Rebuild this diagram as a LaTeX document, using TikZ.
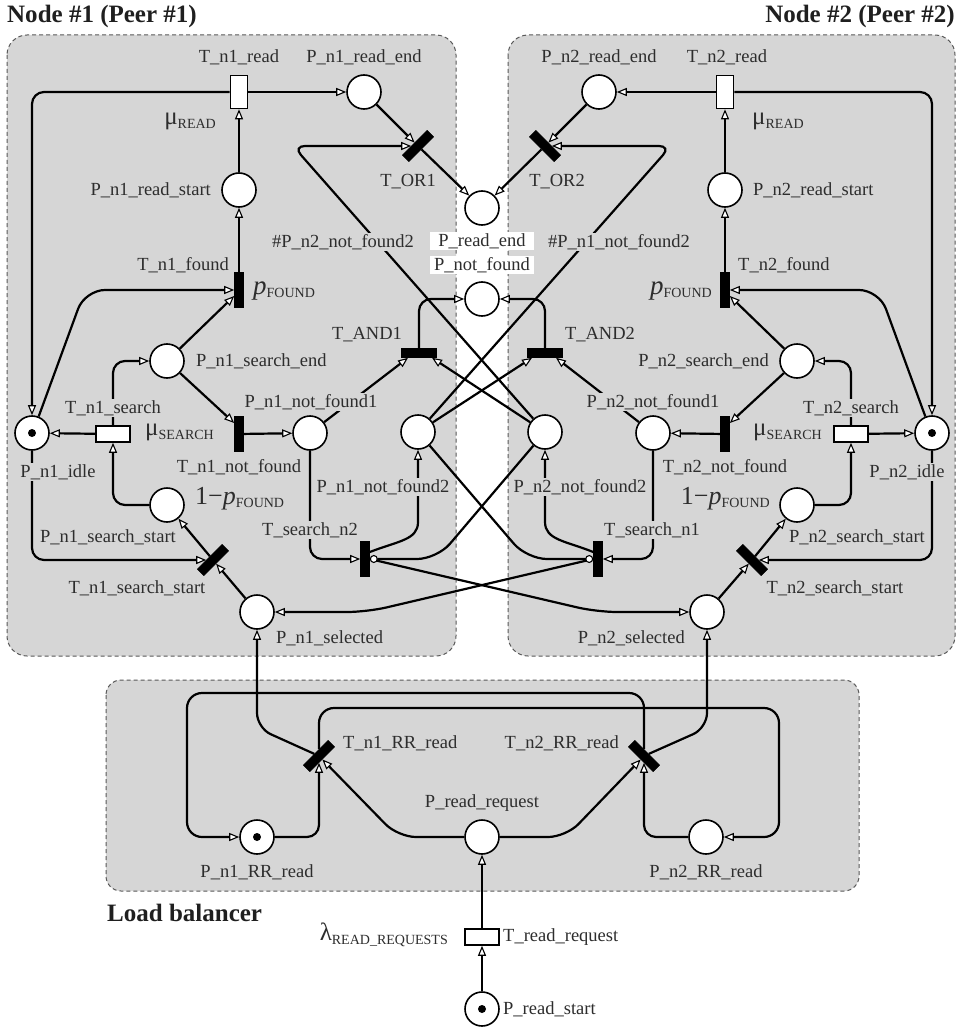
\documentclass[tikz,border=0pt]{standalone}
\usepackage{fontspec}
\setmainfont{Liberation Serif}
\usetikzlibrary{arrows.meta}
\definecolor{boxgray}{RGB}{214,214,214}
\definecolor{txt}{RGB}{45,45,45}
\pgfdeclarelayer{bg}
\pgfdeclarelayer{arcs}
\pgfsetlayers{bg,arcs,main}
\newcommand{\myrate}[2]{{\fontsize{25}{25}\selectfont #1}\raisebox{-4pt}{\fontsize{14}{14}\selectfont #2}}
\newcommand{\mypf}{{\fontsize{27}{27}\selectfont\itshape p}\raisebox{-3pt}{\fontsize{14}{14}\selectfont FOUND}}
\newcommand{\myqf}{{\fontsize{26}{26}\selectfont 1−\textit{p}}\raisebox{-3pt}{\fontsize{14}{14}\selectfont FOUND}}
\begin{document}
\begin{tikzpicture}[x=1pt,y=-1pt,
  place/.style={circle,draw,line width=1.6pt,fill=white,minimum size=34pt,inner sep=0pt},
  imm/.style={rectangle,fill=black,draw=black,line width=0.6pt,minimum width=9pt,minimum height=35pt,inner sep=0pt},
  immh/.style={imm,minimum width=35pt,minimum height=9pt},
  timedv/.style={rectangle,fill=white,draw,line width=1.6pt,minimum width=17pt,minimum height=33pt,inner sep=0pt},
  timedh/.style={timedv,minimum width=34pt,minimum height=16pt},
  arc/.style={line width=2.2pt,-{Triangle[fill=white,line width=1.1pt,length=10pt,width=8pt]}},
  inh/.style={line width=2.2pt,-{Circle[fill=white,line width=1.1pt,length=8pt,width=8pt]}},
  lbl/.style={font=\fontsize{18.5}{20}\selectfont,text=txt,fill=boxgray,inner sep=1pt},
  wlbl/.style={lbl,fill=white},
  ttl/.style={font=\fontsize{25}{27}\selectfont\bfseries,text=black!88,inner sep=0pt},
  pbox/.style={draw=black!65,dash pattern=on 4pt off 3pt,line width=1pt,fill=boxgray,rounded corners=20pt}
]
\useasboundingbox (0,0) rectangle (963,1027);

% ---------- boxes ----------
\begin{pgfonlayer}{bg}
\fill[white] (0,0) rectangle (963,1027);
\draw[pbox] (7,35) rectangle (456,656);
\draw[pbox] (508,35) rectangle (955,656);
\draw[pbox,rounded corners=15pt] (106,680) rectangle (859,891);
\end{pgfonlayer}

% ---------- places ----------
\node[place] (Pn1rs) at (239,190) {};
\node[place] (Pn1re) at (364,92) {};
\node[place] (Pn2re) at (599,92) {};
\node[place] (Pn2rs) at (725,190) {};
\node[place] (Pre) at (482,208) {};
\node[place] (Pnf) at (482,299) {};
\node[place] (Pn1se) at (167,361) {};
\node[place] (Pn2se) at (797,361) {};
\node[place] (Pn1idle) at (32,433) {};
\node[place] (Pn2idle) at (932,433) {};
\node[place] (Pn1nf1) at (310,433) {};
\node[place] (Pn1nf2) at (418,432) {};
\node[place] (Pn2nf2) at (545,432) {};
\node[place] (Pn2nf1) at (653,433) {};
\node[place] (Pn1ss) at (167,505) {};
\node[place] (Pn2ss) at (797,505) {};
\node[place] (Pn1sel) at (257,612) {};
\node[place] (Pn2sel) at (707,612) {};
\node[place] (Pn1RR) at (257,837) {};
\node[place] (Pn2RR) at (706,837) {};
\node[place] (Prr) at (482,837) {};
\node[place] (Prs) at (482,1009) {};
\foreach \p in {Pn1idle,Pn2idle,Pn1RR,Prs} \fill (\p) circle (4);

% ---------- transitions ----------
\node[timedv] (Tn1r) at (239,92) {};
\node[timedv] (Tn2r) at (725,92) {};
\node[imm,rotate=-45] (TOR1) at (418,146) {};
\node[imm,rotate=45] (TOR2) at (545,146) {};
\node[imm] (Tn1f) at (239,290) {};
\node[imm] (Tn2f) at (725,290) {};
\node[immh] (TAND1) at (419,353) {};
\node[immh] (TAND2) at (545,353) {};
\node[timedh] (Tn1s) at (113,434) {};
\node[timedh] (Tn2s) at (851,434) {};
\node[imm] (Tn1nf) at (239,434) {};
\node[imm] (Tn2nf) at (725,434) {};
\node[imm] (Tsn2) at (365,559) {};
\node[imm] (Tsn1) at (598,559) {};
\node[imm,rotate=-45] (Tn1ss) at (213,560) {};
\node[imm,rotate=45] (Tn2ss) at (752,560) {};
\node[imm,rotate=-45] (Tn1RR) at (319,756) {};
\node[imm,rotate=45] (Tn2RR) at (644,756) {};
\node[timedh] (Trr) at (482,937) {};

% ---------- arcs ----------
\begin{pgfonlayer}{arcs}
% top
\draw[arc] (Tn1r.east) -- (Pn1re);
\draw[arc,rounded corners=12pt] (Tn1r.west) -| (Pn1idle.north);
\draw[arc] (Tn2r.west) -- (Pn2re);
\draw[arc,rounded corners=12pt] (Tn2r.east) -| (Pn2idle.north);
\draw[arc] (Pn1rs) -- (Tn1r);
\draw[arc] (Pn2rs) -- (Tn2r);
\draw[arc] (Tn1f) -- (Pn1rs);
\draw[arc] (Tn2f) -- (Pn2rs);
\draw[arc] (Pn1re) -- (TOR1);
\draw[arc] (TOR1) -- (Pre);
\draw[arc] (Pn2re) -- (TOR2);
\draw[arc] (TOR2) -- (Pre);
\draw[arc,rounded corners=12pt] (Pn2nf2) -- (293,146) -- (TOR1);
\draw[arc,rounded corners=12pt] (Pn1nf2) -- (671,146) -- (TOR2);
% AND
\draw[arc,rounded corners=12pt] (TAND1.north) |- (Pnf.west);
\draw[arc,rounded corners=12pt] (TAND2.north) |- (Pnf.east);
\draw[arc] (Pn1nf1) -- ([xshift=-11pt]TAND1.south);
\draw[arc] (Pn2nf2) -- ([xshift=13pt]TAND1.south);
\draw[arc] (Pn1nf2) -- ([xshift=-13pt]TAND2.south);
\draw[arc] (Pn2nf1) -- ([xshift=11pt]TAND2.south);
% node 1
\draw[arc,rounded corners=20pt] (Pn1idle.68) -- (85,290) -- (Tn1f.west);
\draw[arc] (Pn1se) -- ([yshift=-6pt]Tn1f.west);
\draw[arc] (Pn1se) -- ([yshift=11pt]Tn1nf.west);
\draw[arc] (Tn1nf) -- (Pn1nf1);
\draw[arc] (Tn1s) -- (Pn1idle);
\draw[arc,rounded corners=12pt] (Tn1s.north) |- (Pn1se.west);
\draw[arc,rounded corners=12pt] (Pn1ss.west) -| (Tn1s.south);
\draw[arc,rounded corners=12pt] (Pn1idle.south) |- (Tn1ss);
\draw[arc] (Tn1ss) -- (Pn1ss);
\draw[arc] (Pn1sel) -- (Tn1ss);
% node 2
\draw[arc,rounded corners=20pt] (Pn2idle.112) -- (879,290) -- (Tn2f.east);
\draw[arc] (Pn2se) -- ([yshift=-6pt]Tn2f.east);
\draw[arc] (Pn2se) -- ([yshift=11pt]Tn2nf.east);
\draw[arc] (Tn2nf) -- (Pn2nf1);
\draw[arc] (Tn2s) -- (Pn2idle);
\draw[arc,rounded corners=12pt] (Tn2s.north) |- (Pn2se.east);
\draw[arc,rounded corners=12pt] (Pn2ss.east) -| (Tn2s.south);
\draw[arc,rounded corners=12pt] (Pn2idle.south) |- (Tn2ss);
\draw[arc] (Tn2ss) -- (Pn2ss);
\draw[arc] (Pn2sel) -- (Tn2ss);
% search transitions
\draw[arc,rounded corners=12pt] (Pn1nf1.south) |- (Tsn2.west);
\draw[arc,rounded corners=12pt] (Pn2nf1.south) |- (Tsn1.east);
\draw[arc] ([yshift=7pt]Tsn2.east) .. controls (398,541) and (418,540) .. (418,522) -- (Pn1nf2.south);
\draw[arc] ([yshift=7pt]Tsn1.west) .. controls (566,541) and (545,540) .. (545,522) -- (Pn2nf2.south);
\draw[arc,rounded corners=20pt] (Tsn2.east) -- (597,612) -- (Pn2sel.west);
\draw[arc,rounded corners=20pt] (Tsn1.west) -- (367,612) -- (Pn1sel.east);
\draw[inh,rounded corners=20pt] (Pn2nf2) -- (437,559) -- (Tsn2.east);
\draw[inh,rounded corners=20pt] (Pn1nf2) -- (527,559) -- (Tsn1.west);
% load balancer
\draw[arc,rounded corners=15pt] (Tn1RR) -- (257,728) -- (Pn1sel.south);
\draw[arc,rounded corners=15pt] (Tn2RR) -- (707,728) -- (Pn2sel.south);
\draw[arc,rounded corners=18pt] (Prr.west) -- (398,837) -- (Tn1RR);
\draw[arc,rounded corners=18pt] (Prr.east) -- (566,837) -- (Tn2RR);
\draw[arc,rounded corners=12pt] (Pn1RR.east) -| (Tn1RR);
\draw[arc,rounded corners=12pt] (Pn2RR.west) -| (Tn2RR);
\draw[arc,rounded corners=15pt] (Tn1RR) -- (319,708) -- (779,708) -- (779,837) -- (Pn2RR.east);
\draw[arc,rounded corners=15pt] (Tn2RR) -- (644,693) -- (187,693) -- (187,837) -- (Pn1RR.west);
\draw[arc] (Trr) -- (Prr);
\draw[arc] (Prs) -- (Trr);
\end{pgfonlayer}

% ---------- labels ----------
\node[ttl,anchor=west] (ttl1) at (7,16) {Node \#1 (Peer \#1)};
\node[ttl,anchor=east] (ttl2) at (955,16) {Node \#2 (Peer \#2)};
\node[ttl,anchor=west] (ttl3) at (107,913) {Load balancer};

\node[lbl] (lTn1r) at (239,57) {T\_n1\_read};
\node[lbl] (lPn1re) at (364,57) {P\_n1\_read\_end};
\node[lbl] (lPn2re) at (599,57) {P\_n2\_read\_end};
\node[lbl] (lTn2r) at (727,57) {T\_n2\_read};
\node[lbl,anchor=east,inner sep=0pt] (lmr1) at (216,121) {\myrate{μ}{READ}};
\node[lbl,anchor=west,inner sep=0pt] (lmr2) at (752,121) {\myrate{μ}{READ}};
\node[lbl,anchor=east] (lPn1rs) at (212,190) {P\_n1\_read\_start};
\node[lbl,anchor=west] (lPn2rs) at (752,190) {P\_n2\_read\_start};
\node[lbl] (lTOR1) at (408,182) {T\_OR1};
\node[lbl] (lTOR2) at (557,182) {T\_OR2};
\node[lbl] (lw1) at (343,242) {\#P\_n2\_not\_found2};
\node[lbl] (lw2) at (619,242) {\#P\_n1\_not\_found2};
\node[wlbl,minimum width=104pt] (lPre) at (482,241) {P\_read\_end};
\node[wlbl,minimum width=104pt] (lPnf) at (482,265) {P\_not\_found};
\node[lbl,anchor=east] (lTn1f) at (230,265) {T\_n1\_found};
\node[lbl,anchor=west] (lTn2f) at (737,265) {T\_n2\_found};
\node[lbl,anchor=west,inner sep=0pt] (lpf1) at (253,291) {\mypf};
\node[lbl,anchor=east,inner sep=0pt] (lpf2) at (712,291) {\mypf};
\node[lbl] (lTA1) at (367,335) {T\_AND1};
\node[lbl] (lTA2) at (600,335) {T\_AND2};
\node[lbl,anchor=west] (lPn1se) at (195,361) {P\_n1\_search\_end};
\node[lbl,anchor=east] (lPn2se) at (770,361) {P\_n2\_search\_end};
\node[lbl] (lPn1nf1) at (311,402) {P\_n1\_not\_found1};
\node[lbl] (lPn2nf1) at (653,402) {P\_n2\_not\_found1};
\node[lbl] (lTn1s) at (113,408) {T\_n1\_search};
\node[lbl] (lTn2s) at (851,408) {T\_n2\_search};
\node[lbl,anchor=west,inner sep=0pt] (lms1) at (145,432) {\myrate{μ}{SEARCH}};
\node[lbl,anchor=east,inner sep=0pt] (lms2) at (822,432) {\myrate{μ}{SEARCH}};
\node[lbl] (lTn1nf) at (239,467) {T\_n1\_not\_found};
\node[lbl] (lTn2nf) at (725,467) {T\_n2\_not\_found};
\node[lbl] (lPn1idle) at (58,472) {P\_n1\_idle};
\node[lbl] (lPn2idle) at (907,472) {P\_n2\_idle};
\node[lbl,anchor=west,inner sep=0pt] (lqf1) at (195,499) {\myqf};
\node[lbl,anchor=east,inner sep=0pt] (lqf2) at (770,499) {\myqf};
\node[lbl] (lPn1nf2) at (383,487) {P\_n1\_not\_found2};
\node[lbl] (lPn2nf2) at (580,487) {P\_n2\_not\_found2};
\node[lbl] (lTsn2) at (310,530) {T\_search\_n2};
\node[lbl] (lTsn1) at (652,530) {T\_search\_n1};
\node[lbl] (lPn1ss) at (108,537) {P\_n1\_search\_start};
\node[lbl] (lPn2ss) at (857,537) {P\_n2\_search\_start};
\node[lbl] (lTn1ss) at (137,588) {T\_n1\_search\_start};
\node[lbl] (lTn2ss) at (835,588) {T\_n2\_search\_start};
\node[lbl,anchor=west] (lPn1sel) at (275,638) {P\_n1\_selected};
\node[lbl,anchor=east] (lPn2sel) at (686,638) {P\_n2\_selected};
\node[lbl,anchor=west] (lTn1RR) at (342,743) {T\_n1\_RR\_read};
\node[lbl,anchor=east] (lTn2RR) at (620,743) {T\_n2\_RR\_read};
\node[lbl] (lPrr) at (482,803) {P\_read\_request};
\node[lbl] (lPn1RR) at (257,872) {P\_n1\_RR\_read};
\node[lbl] (lPn2RR) at (706,872) {P\_n2\_RR\_read};
\node[lbl,fill=none,anchor=east,inner sep=0pt] (llam) at (448,935) {\myrate{λ}{READ\_REQUESTS}};
\node[lbl,fill=none,anchor=west] (lTrr) at (502,937) {T\_read\_request};
\node[lbl,fill=none,anchor=west] (lPrs) at (502,1009) {P\_read\_start};
\end{tikzpicture}
\end{document}
